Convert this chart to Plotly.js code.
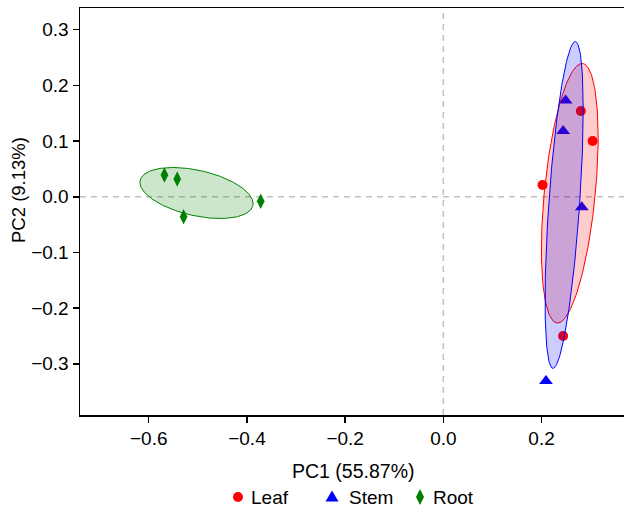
<!DOCTYPE html>
<html>
<head>
<meta charset="utf-8">
<script src="https://cdn.plot.ly/plotly-3.0.1.min.js"></script>
<style>
  html, body { margin: 0; padding: 0; overflow: hidden; background: #fff; }
  #chart { width: 628px; height: 508px; }
</style>
</head>
<body>
<div id="chart"></div>
<script>
// ---- data ----
const groups = ["Leaf", "Stem", "Root"];
const leafX = [0.280, 0.304, 0.202, 0.244];
const leafY = [0.154, 0.100, 0.021, -0.250];
const stemX = [0.249, 0.244, 0.282, 0.209];
const stemY = [0.173, 0.118, -0.019, -0.331];
const rootX = [-0.568, -0.542, -0.529, -0.372];
const rootY = [0.039, 0.032, -0.036, -0.008];
const xTitle = "PC1 (55.87%)";
const yTitle = "PC2 (9.13%)";

// ---- styles ----
const colors = ["#ff0000", "#0000ff", "#008000"];
const fills = ["rgba(255,0,0,0.2)", "rgba(0,0,255,0.2)", "rgba(0,128,0,0.2)"];
const symbols = ["circle", "triangle-up", "diamond-tall"];
const sizes = [10, 12, 11];
const ellipseScale = 1.3;
const FONT = "Liberation Sans, Arial, sans-serif";

// plot-area geometry (px)
const W = 628, H = 508, ML = 80, MR = 2, MT = 8, MB = 93;
const PW = W - ML - MR, PH = H - MT - MB;
const px2x = p => (p - ML) / PW;
const px2y = p => (H - MB - p) / PH;

function ellipse(xs, ys, k) {
  const n = xs.length;
  const mx = xs.reduce((a, b) => a + b, 0) / n;
  const my = ys.reduce((a, b) => a + b, 0) / n;
  let sxx = 0, syy = 0, sxy = 0;
  for (let i = 0; i < n; i++) {
    sxx += (xs[i] - mx) ** 2;
    syy += (ys[i] - my) ** 2;
    sxy += (xs[i] - mx) * (ys[i] - my);
  }
  sxx /= (n - 1); syy /= (n - 1); sxy /= (n - 1);
  const l11 = Math.sqrt(sxx);
  const l21 = sxy / l11;
  const l22 = Math.sqrt(Math.max(syy - l21 * l21, 0));
  const ex = [], ey = [];
  for (let i = 0; i <= 200; i++) {
    const t = 2 * Math.PI * i / 200;
    const u = Math.cos(t), v = Math.sin(t);
    ex.push(mx + k * l11 * u);
    ey.push(my + k * (l21 * u + l22 * v));
  }
  return { x: ex, y: ey };
}

const series = [[leafX, leafY], [stemX, stemY], [rootX, rootY]];
const traces = [];
series.forEach((s, i) => {
  traces.push({
    type: "scatter", mode: "markers", name: groups[i],
    x: s[0], y: s[1],
    marker: { color: colors[i], symbol: symbols[i], size: sizes[i], line: { width: 0 } },
    cliponaxis: false, showlegend: false
  });
});
series.forEach((s, i) => {
  const e = ellipse(s[0], s[1], ellipseScale);
  traces.push({
    type: "scatter", mode: "lines", x: e.x, y: e.y,
    fill: "toself", fillcolor: fills[i],
    line: { color: colors[i], width: 1 },
    showlegend: false, hoverinfo: "skip"
  });
});

const axisCommon = {
  showline: true, mirror: true, linecolor: "#000", linewidth: 1.5,
  ticks: "outside", ticklen: 6, tickwidth: 1.5, tickcolor: "#000",
  showgrid: false, zeroline: false,
  tickfont: { family: FONT, size: 19, color: "#000" }
};

// custom legend (symbol shapes + text), positioned like the reference
const legSym = [238, 332, 420];
const legTxt = [249, 347, 431];
const legY = 497;
const legendShapes = [
  { type: "circle", xref: "paper", yref: "paper", xsizemode: "pixel", ysizemode: "pixel",
    xanchor: px2x(legSym[0]), yanchor: px2y(legY), x0: -5, x1: 5, y0: -5, y1: 5,
    fillcolor: colors[0], line: { width: 0 } },
  { type: "path", xref: "paper", yref: "paper", xsizemode: "pixel", ysizemode: "pixel",
    xanchor: px2x(legSym[1]), yanchor: px2y(legY),
    path: "M-6.5,-4.5 L6.5,-4.5 L0,6.5 Z", fillcolor: colors[1], line: { width: 0 } },
  { type: "path", xref: "paper", yref: "paper", xsizemode: "pixel", ysizemode: "pixel",
    xanchor: px2x(legSym[2]), yanchor: px2y(legY),
    path: "M0,8 L4,0 L0,-8 L-4,0 Z", fillcolor: colors[2], line: { width: 0 } }
];
const legendTexts = groups.map((g, i) => ({
  text: g, xref: "paper", yref: "paper", x: px2x(legTxt[i]), y: px2y(legY),
  xanchor: "left", yanchor: "middle", showarrow: false,
  font: { family: FONT, size: 19, color: "#000" }
}));

const layout = {
  width: W, height: H,
  margin: { l: ML, r: MR, t: MT, b: MB, autoexpand: false },
  paper_bgcolor: "#fff", plot_bgcolor: "#fff",
  font: { family: FONT, color: "#000" },
  showlegend: false,
  xaxis: Object.assign({}, axisCommon, { range: [-0.740, 0.372], dtick: 0.2, tick0: 0, tickformat: ".1f" }),
  yaxis: Object.assign({}, axisCommon, { range: [-0.392, 0.339], dtick: 0.1, tick0: 0, tickformat: ".1f" }),
  shapes: [
    { type: "line", xref: "x", yref: "paper", x0: 0, x1: 0, y0: 0, y1: 1, layer: "below",
      line: { color: "#c0c0c0", width: 1.5, dash: "6px,5px" } },
    { type: "line", xref: "paper", yref: "y", x0: 0, x1: 1, y0: 0, y1: 0, layer: "below",
      line: { color: "#c0c0c0", width: 1.5, dash: "6px,5px" } }
  ].concat(legendShapes),
  annotations: [
    { text: xTitle, xref: "paper", yref: "paper", x: px2x(353), y: px2y(471), xanchor: "center", yanchor: "middle",
      showarrow: false, font: { family: FONT, size: 19.5, color: "#000" } },
    { text: yTitle, xref: "paper", yref: "paper", x: px2x(18), y: px2y(190), xanchor: "center", yanchor: "middle",
      textangle: -90, showarrow: false, font: { family: FONT, size: 18.5, color: "#000" } }
  ].concat(legendTexts)
};

Plotly.newPlot("chart", traces, layout, { displayModeBar: false, staticPlot: true });
</script>
</body>
</html>
